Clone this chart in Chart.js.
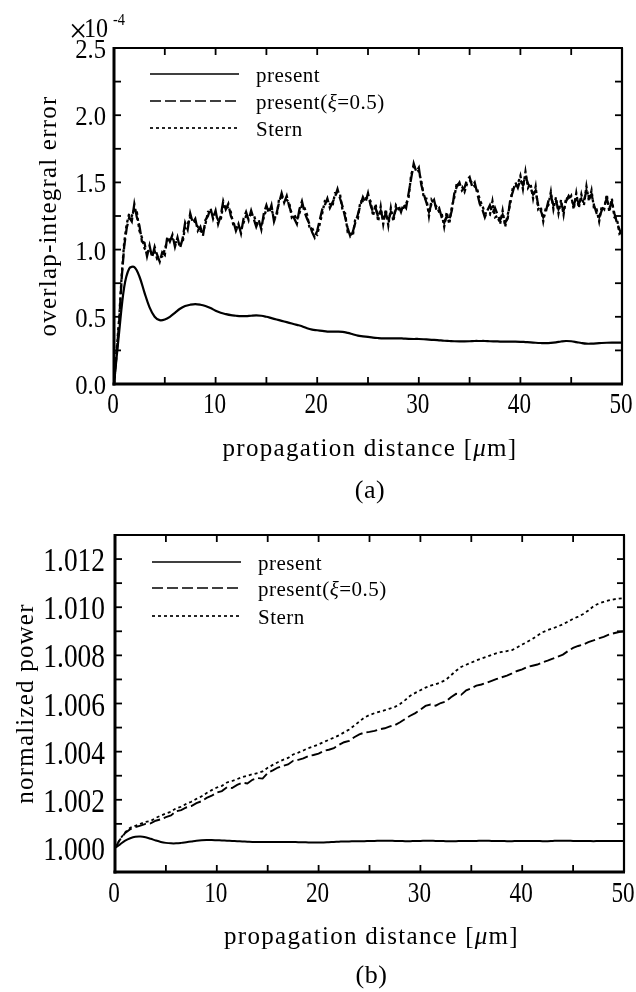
<!DOCTYPE html>
<html>
<head>
<meta charset="utf-8">
<title>overlap-integral error / normalized power</title>
<script src="https://cdn.jsdelivr.net/npm/chart.js@4.4.1/dist/chart.umd.min.js"></script>
<style>
  html, body { margin: 0; padding: 0; background: #fff; }
  #wrap { position: relative; width: 636px; height: 992px; }
  canvas { position: absolute; left: 0; }
  #chartA { top: 0; }
  #chartB { top: 510px; }
</style>
</head>
<body>
<div id="wrap">
  <canvas id="chartA" width="636" height="510"></canvas>
  <canvas id="chartB" width="636" height="482"></canvas>
</div>
<script>
// sample grids along the propagation distance (um)
const fineStep = 0.25;
const coarseStep = 0.5;
const distFine = Array.from({ length: 201 }, (_, i) => i * fineStep);
const distCoarse = Array.from({ length: 101 }, (_, i) => i * coarseStep);

// (a) overlap-integral error, in units of 1e-4
const errPresent = [
  0.00, 0.38, 0.72, 0.86, 0.87, 0.80, 0.68, 0.57, 0.50, 0.475,
  0.48, 0.50, 0.53, 0.56, 0.58, 0.59, 0.595, 0.59, 0.58, 0.565,
  0.545, 0.53, 0.52, 0.512, 0.508, 0.505, 0.505, 0.508, 0.51, 0.508,
  0.50, 0.49, 0.48, 0.47, 0.46, 0.45, 0.44, 0.43, 0.415, 0.405,
  0.40, 0.395, 0.39, 0.39, 0.39, 0.388, 0.38, 0.37, 0.36, 0.355,
  0.35, 0.345, 0.342, 0.34, 0.34, 0.34, 0.34, 0.338, 0.336, 0.335,
  0.335, 0.333, 0.33, 0.328, 0.325, 0.322, 0.32, 0.318, 0.317, 0.317,
  0.318, 0.32, 0.32, 0.32, 0.318, 0.317, 0.316, 0.315, 0.315, 0.315,
  0.314, 0.312, 0.31, 0.307, 0.305, 0.304, 0.306, 0.31, 0.316, 0.32,
  0.318, 0.312, 0.305, 0.30, 0.30, 0.302, 0.305, 0.307, 0.308, 0.308,
  0.308
];
const errPresentXi = [
  0.00, 0.22, 0.45, 0.78, 1.02, 1.16, 1.24, 1.21, 1.34, 1.24,
  1.18, 1.06, 1.05, 0.95, 1.03, 0.94, 1.02, 0.96, 0.91, 0.98,
  0.96, 1.10, 1.06, 1.11, 1.02, 1.09, 1.01, 1.08, 1.20, 1.15,
  1.27, 1.20, 1.23, 1.14, 1.17, 1.10, 1.22, 1.25, 1.31, 1.23,
  1.29, 1.19, 1.25, 1.36, 1.30, 1.34, 1.25, 1.21, 1.14, 1.19,
  1.12, 1.23, 1.28, 1.22, 1.29, 1.23, 1.17, 1.22, 1.15, 1.27,
  1.33, 1.27, 1.33, 1.21, 1.27, 1.35, 1.42, 1.35, 1.40, 1.32,
  1.27, 1.23, 1.19, 1.30, 1.36, 1.28, 1.23, 1.19, 1.13, 1.09,
  1.14, 1.22, 1.30, 1.33, 1.38, 1.31, 1.35, 1.39, 1.45, 1.38,
  1.32, 1.24, 1.16, 1.10, 1.13, 1.20, 1.26, 1.33, 1.39, 1.35,
  1.42, 1.33, 1.28, 1.31, 1.24, 1.29, 1.22, 1.27, 1.21, 1.28,
  1.24, 1.30, 1.33, 1.28, 1.34, 1.31, 1.42, 1.53, 1.64, 1.58,
  1.61, 1.48, 1.41, 1.35, 1.28, 1.34, 1.37, 1.29, 1.31, 1.24,
  1.20, 1.25, 1.22, 1.29, 1.42, 1.47, 1.50, 1.44, 1.46, 1.52,
  1.54, 1.47, 1.50, 1.42, 1.34, 1.30, 1.24, 1.29, 1.33, 1.27,
  1.31, 1.26, 1.22, 1.26, 1.20, 1.23, 1.37, 1.43, 1.50, 1.46,
  1.52, 1.48, 1.55, 1.49, 1.46, 1.41, 1.44, 1.33, 1.29, 1.24,
  1.28, 1.36, 1.40, 1.33, 1.36, 1.30, 1.34, 1.29, 1.36, 1.40,
  1.37, 1.33, 1.39, 1.34, 1.38, 1.36, 1.44, 1.39, 1.41, 1.33,
  1.27, 1.24, 1.29, 1.33, 1.38, 1.31, 1.35, 1.27, 1.20, 1.15,
  1.11
];
const errStern = [
  0.00, 0.24, 0.48, 0.80, 1.05, 1.19, 1.27, 1.25, 1.30, 1.28,
  1.14, 1.09, 1.01, 0.98, 1.00, 0.97, 0.99, 0.93, 0.94, 0.95,
  1.00, 1.07, 1.09, 1.08, 1.05, 1.06, 1.04, 1.05, 1.17, 1.19,
  1.24, 1.23, 1.20, 1.17, 1.14, 1.13, 1.19, 1.28, 1.28, 1.26,
  1.26, 1.22, 1.22, 1.33, 1.33, 1.31, 1.28, 1.18, 1.17, 1.16,
  1.15, 1.20, 1.25, 1.25, 1.26, 1.26, 1.20, 1.19, 1.18, 1.24,
  1.30, 1.30, 1.30, 1.24, 1.24, 1.38, 1.39, 1.38, 1.37, 1.35,
  1.24, 1.26, 1.22, 1.27, 1.33, 1.31, 1.26, 1.16, 1.16, 1.12,
  1.11, 1.19, 1.27, 1.36, 1.35, 1.34, 1.32, 1.42, 1.42, 1.41,
  1.29, 1.27, 1.13, 1.13, 1.10, 1.23, 1.23, 1.36, 1.36, 1.38,
  1.39, 1.36, 1.25, 1.34, 1.21, 1.32, 1.19, 1.30, 1.18, 1.31,
  1.21, 1.33, 1.30, 1.31, 1.31, 1.34, 1.39, 1.56, 1.61, 1.61,
  1.58, 1.51, 1.38, 1.38, 1.25, 1.37, 1.34, 1.32, 1.28, 1.27,
  1.17, 1.28, 1.19, 1.32, 1.39, 1.50, 1.47, 1.47, 1.43, 1.49,
  1.51, 1.50, 1.47, 1.45, 1.37, 1.33, 1.27, 1.27, 1.26, 1.36,
  1.24, 1.25, 1.19, 1.29, 1.17, 1.26, 1.34, 1.46, 1.47, 1.49,
  1.55, 1.45, 1.58, 1.46, 1.49, 1.38, 1.47, 1.30, 1.32, 1.21,
  1.31, 1.33, 1.43, 1.30, 1.39, 1.27, 1.37, 1.26, 1.39, 1.37,
  1.40, 1.30, 1.42, 1.31, 1.41, 1.33, 1.47, 1.36, 1.44, 1.30,
  1.30, 1.21, 1.32, 1.30, 1.41, 1.28, 1.38, 1.24, 1.23, 1.12,
  1.14
];

// (b) normalized power
const powPresent = [
  1.00000, 1.00015, 1.00030, 1.00040, 1.00046, 1.00047, 1.00044, 1.00038, 1.00031, 1.00025,
  1.00021, 1.00019, 1.00019, 1.00021, 1.00024, 1.00027, 1.00030, 1.00032, 1.00033, 1.00033,
  1.00032, 1.00031, 1.00030, 1.00029, 1.00028, 1.00027, 1.00026, 1.00025, 1.00025, 1.00025,
  1.00025, 1.00025, 1.00025, 1.00025, 1.00025, 1.00025, 1.00024, 1.00024, 1.00023, 1.00023,
  1.00023, 1.00023, 1.00024, 1.00025, 1.00026, 1.00027, 1.00027, 1.00028, 1.00028, 1.00028,
  1.00029, 1.00029, 1.00030, 1.00030, 1.00030, 1.00029, 1.00029, 1.00028, 1.00028, 1.00029,
  1.00029, 1.00030, 1.00030, 1.00029, 1.00029, 1.00028, 1.00028, 1.00028, 1.00029, 1.00029,
  1.00029, 1.00029, 1.00030, 1.00030, 1.00029, 1.00029, 1.00029, 1.00028, 1.00028, 1.00029,
  1.00029, 1.00029, 1.00029, 1.00029, 1.00028, 1.00028, 1.00029, 1.00030, 1.00030, 1.00030,
  1.00029, 1.00029, 1.00029, 1.00029, 1.00028, 1.00029, 1.00029, 1.00029, 1.00029, 1.00029,
  1.00029
];
const powPresentXi = [
  1.00000, 1.00035, 1.00062, 1.00078, 1.00086, 1.00093, 1.00100, 1.00102, 1.00113, 1.00119,
  1.00128, 1.00135, 1.00152, 1.00157, 1.00168, 1.00174, 1.00186, 1.00194, 1.00208, 1.00217,
  1.00230, 1.00236, 1.00252, 1.00249, 1.00262, 1.00271, 1.00268, 1.00283, 1.00290, 1.00288,
  1.00312, 1.00322, 1.00334, 1.00341, 1.00347, 1.00362, 1.00366, 1.00372, 1.00382, 1.00386,
  1.00392, 1.00403, 1.00408, 1.00415, 1.00428, 1.00439, 1.00445, 1.00460, 1.00472, 1.00479,
  1.00482, 1.00486, 1.00493, 1.00497, 1.00505, 1.00510, 1.00522, 1.00536, 1.00549, 1.00560,
  1.00574, 1.00590, 1.00596, 1.00591, 1.00602, 1.00608, 1.00626, 1.00640, 1.00636, 1.00655,
  1.00663, 1.00674, 1.00679, 1.00686, 1.00694, 1.00702, 1.00709, 1.00716, 1.00725, 1.00735,
  1.00742, 1.00752, 1.00757, 1.00762, 1.00771, 1.00778, 1.00786, 1.00795, 1.00803, 1.00818,
  1.00831, 1.00839, 1.00845, 1.00855, 1.00862, 1.00870, 1.00877, 1.00886, 1.00892, 1.00897,
  1.00899
];
const powStern = [
  1.00000, 1.00037, 1.00065, 1.00084, 1.00092, 1.00100, 1.00108, 1.00112, 1.00125, 1.00134,
  1.00143, 1.00150, 1.00165, 1.00171, 1.00183, 1.00192, 1.00204, 1.00214, 1.00228, 1.00240,
  1.00251, 1.00258, 1.00272, 1.00278, 1.00286, 1.00294, 1.00300, 1.00306, 1.00311, 1.00318,
  1.00333, 1.00345, 1.00356, 1.00366, 1.00374, 1.00388, 1.00396, 1.00405, 1.00415, 1.00422,
  1.00430, 1.00440, 1.00449, 1.00458, 1.00468, 1.00480, 1.00492, 1.00508, 1.00525, 1.00542,
  1.00552, 1.00560, 1.00566, 1.00572, 1.00579, 1.00586, 1.00598, 1.00614, 1.00632, 1.00644,
  1.00655, 1.00666, 1.00674, 1.00680, 1.00688, 1.00698, 1.00717, 1.00736, 1.00752, 1.00761,
  1.00770, 1.00779, 1.00787, 1.00794, 1.00802, 1.00809, 1.00814, 1.00818, 1.00822, 1.00833,
  1.00845, 1.00856, 1.00868, 1.00882, 1.00896, 1.00905, 1.00912, 1.00920, 1.00929, 1.00940,
  1.00952, 1.00961, 1.00972, 1.00986, 1.01004, 1.01015, 1.01022, 1.01028, 1.01033, 1.01036,
  1.01038
];

// ticks
const xTickValues = [0, 10, 20, 30, 40, 50];
const xTickLabels = ['0', '10', '20', '30', '40', '50'];
const xTickMarks = [5, 10, 15, 20, 25, 30, 35, 40, 45];
const errTickValues = [0, 0.5, 1.0, 1.5, 2.0, 2.5];
const errTickLabels = ['0.0', '0.5', '1.0', '1.5', '2.0', '2.5'];
const errTickMarks = [0.25, 0.5, 0.75, 1.0, 1.25, 1.5, 1.75, 2.0, 2.25];
const powTickValues = [1.000, 1.002, 1.004, 1.006, 1.008, 1.010, 1.012];
const powTickLabels = ['1.000', '1.002', '1.004', '1.006', '1.008', '1.010', '1.012'];
const powTickMarks = [1.001, 1.002, 1.003, 1.004, 1.005, 1.006, 1.007, 1.008, 1.009, 1.010, 1.011, 1.012];

const ink = '#000';
const serif = '"Liberation Serif", "Times New Roman", serif';
const solidDash = [];
const longDash = [11, 4];
const shortDash = [3, 3];

function pairs(xs, ys) {
  return ys.map((v, i) => ({ x: xs[i], y: v }));
}

function setFont(ctx, size, italic) {
  ctx.font = (italic ? 'italic ' : '') + size + 'px ' + serif;
}

// narrow numerals like the printed figure
function squeezed(ctx, s, x, y, size, k, align) {
  setFont(ctx, size, false);
  ctx.textAlign = align;
  ctx.textBaseline = 'alphabetic';
  const w = ctx.measureText(s).width * k;
  ctx.fillText(s, x, y, w);
}

// text made of runs, some italic
function runs(ctx, parts, x, y, size, spacing, align) {
  ctx.letterSpacing = spacing + 'px';
  ctx.textAlign = 'left';
  ctx.textBaseline = 'alphabetic';
  let total = 0;
  const widths = parts.map(([t, it]) => {
    setFont(ctx, size, it);
    const w = ctx.measureText(t).width;
    total += w;
    return w;
  });
  let cx = align === 'center' ? x - total / 2 : x;
  parts.forEach(([t, it], i) => {
    setFont(ctx, size, it);
    ctx.fillText(t, cx, y);
    cx += widths[i];
  });
  ctx.letterSpacing = '0px';
}

function seg(ctx, x1, y1, x2, y2) {
  ctx.beginPath();
  ctx.moveTo(x1, y1);
  ctx.lineTo(x2, y2);
  ctx.stroke();
}

function paperFrame(o) {
  return {
    id: 'paperFrame',
    afterDraw(chart) {
      const ctx = chart.ctx;
      const a = chart.chartArea;
      const xs = chart.scales.x;
      const ys = chart.scales.y;
      ctx.save();
      ctx.strokeStyle = ink;
      ctx.fillStyle = ink;
      ctx.setLineDash([]);

      // box: heavier on the left and bottom
      ctx.lineWidth = 2.2;
      seg(ctx, a.left, a.top, a.right + 1, a.top);
      seg(ctx, a.right, a.top, a.right, a.bottom);
      ctx.lineWidth = 3;
      seg(ctx, a.left, a.top - 1, a.left, a.bottom + 1.5);
      seg(ctx, a.left - 1.5, a.bottom, a.right + 1, a.bottom);

      // inward ticks
      ctx.lineWidth = 1.8;
      xTickMarks.forEach(v => {
        const p = xs.getPixelForValue(v);
        seg(ctx, p, a.bottom, p, a.bottom - 7);
        seg(ctx, p, a.top, p, a.top + 7);
      });
      o.yMarks.forEach(v => {
        const p = ys.getPixelForValue(v);
        seg(ctx, a.left, p, a.left + 7, p);
        seg(ctx, a.right, p, a.right - 7, p);
      });

      // tick labels
      xTickValues.forEach((v, i) => {
        squeezed(ctx, xTickLabels[i], xs.getPixelForValue(v) - 1, a.bottom + o.xLabelDy, o.xSize, o.xK, 'center');
      });
      o.yValues.forEach((v, i) => {
        squeezed(ctx, o.yLabels[i], a.left - o.yLabelGap, ys.getPixelForValue(v) + o.yLabelDy, o.ySize, o.yK, 'right');
      });

      // axis titles
      runs(ctx, [['propagation distance [', false], ['\u03bc', true], ['m]', false]],
        (a.left + a.right) / 2 + 2, a.bottom + o.xTitleDy, 25, 1.3, 'center');
      ctx.save();
      ctx.translate(o.yTitleX, (a.top + a.bottom) / 2);
      ctx.rotate(-Math.PI / 2);
      runs(ctx, [[o.yTitle, false]], 0, 0, 25, 1.2, 'center');
      ctx.restore();

      // panel caption
      runs(ctx, [[o.caption, false]], (a.left + a.right) / 2 + 2, a.bottom + o.captionDy, 26, 0.6, 'center');

      // exponent
      if (o.exponent) {
        squeezed(ctx, '\u00d7', 69, 42, 34, 0.95, 'left');
        squeezed(ctx, '10', 84, 37, 28, 0.86, 'left');
        squeezed(ctx, '-4', 113, 25, 16, 0.9, 'left');
      }

      // legend
      chart.data.datasets.forEach((ds, i) => {
        const y = a.top + o.legendRows[i];
        ctx.lineWidth = 1.7;
        ctx.setLineDash(ds.borderDash || []);
        seg(ctx, o.legendX1, y, o.legendX2, y);
        ctx.setLineDash([]);
        runs(ctx, o.legendText[i], o.legendTextX, y + 8, 21, 0.5, 'left');
      });
      ctx.restore();
    }
  };
}

function baseOptions(pad, yMin, yMax) {
  return {
    responsive: false,
    animation: false,
    devicePixelRatio: 1,
    layout: { padding: pad },
    scales: {
      x: { type: 'linear', min: 0, max: 50, display: false },
      y: { type: 'linear', min: yMin, max: yMax, display: false }
    },
    elements: { point: { radius: 0 } },
    plugins: { legend: { display: false }, tooltip: { enabled: false } }
  };
}

const legendLabels = [
  [['present', false]],
  [['present(', false], ['\u03be', true], ['=0.5)', false]],
  [['Stern', false]]
];

new Chart(document.getElementById('chartA'), {
  type: 'line',
  data: {
    datasets: [
      { label: 'present', data: pairs(distCoarse, errPresent), borderColor: ink, borderWidth: 2.2, borderDash: solidDash, tension: 0.35, fill: false },
      { label: 'present(\u03be=0.5)', data: pairs(distFine, errPresentXi), borderColor: ink, borderWidth: 2.3, borderDash: longDash, tension: 0, fill: false },
      { label: 'Stern', data: pairs(distFine, errStern), borderColor: ink, borderWidth: 2.3, borderDash: shortDash, tension: 0, fill: false }
    ]
  },
  options: baseOptions({ left: 114, top: 48, right: 14, bottom: 126 }, 0, 2.5),
  plugins: [paperFrame({
    yMarks: errTickMarks, yValues: errTickValues, yLabels: errTickLabels,
    xLabelDy: 29, xSize: 29, xK: 0.8,
    yLabelGap: 8, yLabelDy: 10, ySize: 28, yK: 0.88,
    xTitleDy: 72, yTitleX: 56, yTitle: 'overlap-integral error',
    caption: '(a)', captionDy: 114, exponent: true,
    legendRows: [26, 53, 80], legendX1: 150, legendX2: 239, legendTextX: 256,
    legendText: legendLabels
  })]
});

new Chart(document.getElementById('chartB'), {
  type: 'line',
  data: {
    datasets: [
      { label: 'present', data: pairs(distCoarse, powPresent), borderColor: ink, borderWidth: 2, borderDash: solidDash, tension: 0.35, fill: false },
      { label: 'present(\u03be=0.5)', data: pairs(distCoarse, powPresentXi), borderColor: ink, borderWidth: 1.9, borderDash: longDash, tension: 0, fill: false },
      { label: 'Stern', data: pairs(distCoarse, powStern), borderColor: ink, borderWidth: 1.8, borderDash: shortDash, tension: 0, fill: false }
    ]
  },
  options: baseOptions({ left: 115, top: 25, right: 12, bottom: 120 }, 0.999, 1.013),
  plugins: [paperFrame({
    yMarks: powTickMarks, yValues: powTickValues, yLabels: powTickLabels,
    xLabelDy: 30, xSize: 29, xK: 0.8,
    yLabelGap: 10, yLabelDy: 12, ySize: 33, yK: 0.83,
    xTitleDy: 72, yTitleX: 33, yTitle: 'normalized power',
    caption: '(b)', captionDy: 111, exponent: false,
    legendRows: [27, 53, 81], legendX1: 152, legendX2: 241, legendTextX: 258,
    legendText: legendLabels
  })]
});
</script>
</body>
</html>
